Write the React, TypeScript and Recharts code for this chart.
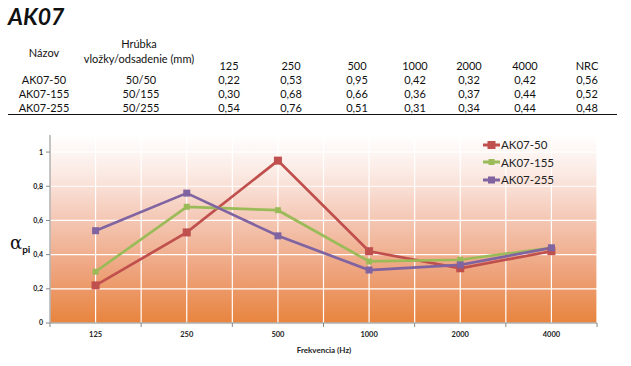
import React from 'react';
import { LineChart, Line, XAxis, YAxis, CartesianGrid } from 'recharts';

const freqs = ['125', '250', '500', '1000', '2000', '4000'];
const ak50 = [0.22, 0.53, 0.95, 0.42, 0.32, 0.42];
const ak155 = [0.3, 0.68, 0.66, 0.36, 0.37, 0.44];
const ak255 = [0.54, 0.76, 0.51, 0.31, 0.34, 0.44];
const names = ['AK07-50', 'AK07-155', 'AK07-255'];
const thickness = ['50/50', '50/155', '50/255'];
const nrc = ['0,56', '0,52', '0,48'];
const yTicks = [0, 0.2, 0.4, 0.6, 0.8, 1];

const seriesValues = [ak50, ak155, ak255];
const colors = ['#C0504D', '#9BBB59', '#8064A2'];
const markerSizes = [8, 6, 7];

const data = freqs.map((f, i) => ({ i, f, s0: ak50[i], s1: ak155[i], s2: ak255[i] }));
const xTicks: number[] = [];
for (let k = -1; k <= 11; k++) xTicks.push(k / 2);

const fmt = (v: number) => v.toFixed(2).replace('.', ',');
const font = 'Lato, "Open Sans", sans-serif';

const XTick = (props: any) => {
  const { x, y, payload } = props;
  const v = payload.value;
  if (Number.isInteger(v)) {
    return (
      <text x={x} y={y + 14} textAnchor="middle" fontSize={7.5} fontWeight="bold" fill="#222" fontFamily={font}>
        {freqs[v]}
      </text>
    );
  }
  return <line x1={x} y1={y} x2={x} y2={y + 4} stroke="#8a8a8a" strokeWidth={1} />;
};

const makeDot = (idx: number) => (props: any) => {
  const { cx, cy, index } = props;
  const s = markerSizes[idx];
  if (cx == null || cy == null) return <g key={index} />;
  return <rect key={index} x={cx - s / 2} y={cy - s / 2} width={s} height={s} fill={colors[idx]} />;
};

const colX = [229, 291, 357, 415, 469, 525, 587];
const rowY = [79, 93, 107];

export default function App() {
  const abs = (x: number, y: number, extra: any = {}) => ({
    position: 'absolute' as const,
    left: x,
    top: y,
    transform: 'translate(-50%, -50%)',
    whiteSpace: 'nowrap' as const,
    ...extra,
  });
  return (
    <div style={{ position: 'absolute', left: 0, top: 0, width: 631, height: 366, background: '#fff', fontFamily: font, color: '#111', overflow: 'hidden' }}>
      <div style={{ position: 'absolute', left: 8, top: 2, fontSize: 23, fontWeight: 'bold', fontStyle: 'italic', color: '#111' }}>AK07</div>
      <div style={{ fontSize: 11 }}>
        <div style={abs(44, 52)}>Názov</div>
        <div style={abs(139, 43)}>Hrúbka</div>
        <div style={abs(139, 58)}>vložky/odsadenie (mm)</div>
        {[...freqs, 'NRC'].map((h, c) => (
          <div key={h} style={abs(colX[c], 65)}>{h}</div>
        ))}
        {names.map((n, r) => (
          <React.Fragment key={n}>
            <div style={abs(44, rowY[r])}>{n}</div>
            <div style={abs(141, rowY[r])}>{thickness[r]}</div>
            {seriesValues[r].map((v, c) => (
              <div key={c} style={abs(colX[c], rowY[r])}>{fmt(v)}</div>
            ))}
            <div style={abs(colX[6], rowY[r])}>{nrc[r]}</div>
          </React.Fragment>
        ))}
        <div style={{ position: 'absolute', left: 8, top: 114, width: 609, height: 1, background: '#111' }} />
      </div>

      <div style={{ position: 'absolute', left: 0, top: 0 }}>
        <LineChart width={631} height={366} data={data} margin={{ top: 135, right: 34, bottom: 13, left: 0 }}>
          <defs>
            <linearGradient id="bgGrad" x1="0" y1="0" x2="0" y2="1">
              <stop offset="0%" stopColor="#FFFFFF" />
              <stop offset="20%" stopColor="#FBEAE4" />
              <stop offset="45%" stopColor="#F4C7B4" />
              <stop offset="72%" stopColor="#EEA47E" />
              <stop offset="100%" stopColor="#E8843E" />
            </linearGradient>
          </defs>
          <CartesianGrid stroke="#FFFFFF" strokeWidth={1.2} fill="url(#bgGrad)" fillOpacity={1} />
          <XAxis
            dataKey="i"
            type="number"
            domain={[-0.5, 5.5]}
            ticks={xTicks}
            interval={0}
            tickLine={false}
            tickSize={0}
            tickMargin={0}
            height={30}
            axisLine={{ stroke: '#8a8a8a' }}
            tick={<XTick />}
            allowDataOverflow
          />
          <YAxis
            type="number"
            domain={[0, 1.1]}
            ticks={yTicks}
            width={50}
            tickSize={4}
            tickMargin={3}
            axisLine={{ stroke: '#8a8a8a' }}
            tickLine={{ stroke: '#8a8a8a' }}
            tick={{ fontSize: 7, fontWeight: 'bold', fill: '#222', fontFamily: font }}
            tickFormatter={(v: number) => (v === 0 || v === 1 ? String(v) : v.toFixed(1).replace('.', ','))}
            allowDataOverflow
          />
          {['s0', 's1', 's2'].map((k, idx) => (
            <Line
              key={k}
              dataKey={k}
              name={names[idx]}
              stroke={colors[idx]}
              strokeWidth={2.7}
              dot={makeDot(idx)}
              activeDot={false}
              isAnimationActive={false}
            />
          ))}
        </LineChart>
      </div>

      <div style={{ position: 'absolute', left: 483, top: 136, fontFamily: font, fontSize: 11.5, color: '#222' }}>
        {names.map((n, k) => (
          <div key={n} style={{ display: 'flex', alignItems: 'center', height: 17.5 }}>
            <svg width={17} height={10} style={{ marginRight: 1 }}>
              <line x1={0} y1={5} x2={17} y2={5} stroke={colors[k]} strokeWidth={3} />
              <rect x={8.5 - markerSizes[k] / 2} y={5 - markerSizes[k] / 2} width={markerSizes[k]} height={markerSizes[k]} fill={colors[k]} />
            </svg>
            <span>{n}</span>
          </div>
        ))}
      </div>

      <div style={{ position: 'absolute', left: 10, top: 234, fontFamily: '"DejaVu Serif", serif', fontSize: 18, color: '#111', lineHeight: '18px' }}>
        α<span style={{ fontFamily: font, fontSize: 10, fontWeight: 'bold', position: 'relative', top: 4 }}>pi</span>
      </div>
      <div style={{ position: 'absolute', left: 324, top: 350, transform: 'translate(-50%, -50%)', fontSize: 8, fontWeight: 'bold', color: '#222' }}>
        Frekvencia (Hz)
      </div>
    </div>
  );
}
